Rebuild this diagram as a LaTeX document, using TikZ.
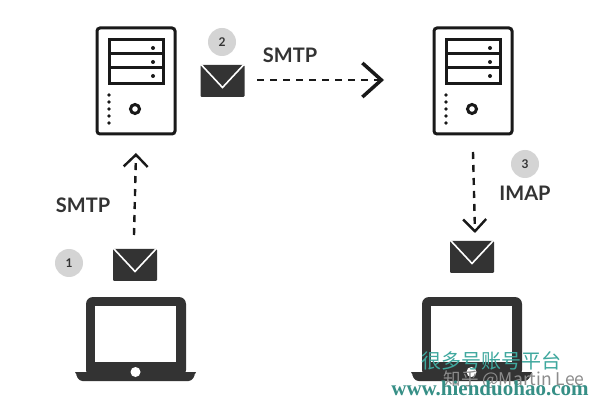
\documentclass[tikz,border=0pt]{standalone}
\usepackage{fontspec}
\setmainfont{Lato}
\newfontfamily\cjk{Noto Sans CJK SC}
\newfontfamily\wmserif{Liberation Serif}
\usetikzlibrary{arrows.meta}
\definecolor{ink}{HTML}{333333}
\definecolor{badge}{HTML}{D4D4D4}
\definecolor{wm}{HTML}{3FA89E}
\tikzset{
  x=1pt,y=-1pt,
  proto/.style={font=\fontsize{20}{22}\selectfont\bfseries,text=ink,inner sep=0pt},
  num/.style={circle,fill=badge,minimum size=28pt,inner sep=0pt,text=ink,font=\fontsize{12}{12}\selectfont\bfseries},
  flow/.style={line width=2.4pt,draw=black!90,dash pattern=on 7pt off 6pt},
  pics/serverbox/.style={code={
    \draw[line width=3pt,draw=black!90,rounded corners=3pt] (1,0) rectangle (79,106);
    \draw[line width=3pt,draw=black!90] (13,12) rectangle (67,56) (13,26)--(67,26) (13,40)--(67,40);
    \foreach \yy in {20,34,48} \fill[black!90] (57,\yy) circle (2);
    \foreach \yy in {67,74,81,88,95} \fill[black!90] (13,\yy) circle (1.9);
    \draw[line width=3pt,draw=black!90] (39,81) circle (4.5);
  }},
  pics/mailbox/.style={code={
    \fill[ink,rounded corners=1.2pt] (0,0) rectangle (44,32);
    \draw[white,line width=1.6pt] (1,0)--(22,22.5)--(43,0);
  }},
  pics/laptopbox/.style={code={
    \fill[ink,rounded corners=7pt] (11,0) rectangle (111,80);
    \fill[ink,rounded corners=3.5pt] (0,75) -- (121,75) -- (117,84) -- (4,84) -- cycle;
    \fill[ink] (0,75) -- (121,75) -- (120,77) -- (1,77) -- cycle;
    \fill[white] (20,9) rectangle (101,65);
    \fill[white] (60.5,75) circle (5);
  }},
}
\begin{document}
\begin{tikzpicture}
\useasboundingbox (0,0) rectangle (600,406);
\fill[white] (0,0) rectangle (600,406);
% servers
\pic at (96,28) {serverbox};
\pic at (433,28) {serverbox};
% envelopes
\pic at (113,249) {mailbox};
\pic at (200.5,65) {mailbox};
\pic at (450,241) {mailbox};
% laptops
\pic at (75,297) {laptopbox};
\pic at (411,297) {laptopbox};
% connector ends
\coordinate (upstart) at (134,235);
\coordinate (uptip) at (136,153);
\coordinate (rightstart) at (257,80);
\coordinate (righttip) at (384,80);
\coordinate (downstart) at (473,152);
\coordinate (downtip) at (475,233);
\draw[flow,-{Straight Barb[length=12pt,width=24pt,line width=2.4pt]}] (upstart)--(uptip);
\draw[flow,-{Straight Barb[length=19pt,width=34pt,line width=3.5pt]}] (rightstart)--(righttip);
\draw[flow,-{Straight Barb[length=12pt,width=23pt,line width=2.4pt]}] (downstart)--(downtip);
% badges
\node[num] (b1) at (69,263) {1};
\node[num] (b2) at (222,42) {2};
\node[num] (b3) at (525,164) {3};
% labels
\node[proto] (l1) at (83,205) {SMTP};
\node[proto] (l2) at (290,55) {SMTP};
\node[proto] (l3) at (525,193) {IMAP};
% watermarks
\node[inner sep=0pt,text=wm,font=\cjk\fontsize{20}{20}\selectfont] (w1) at (491,361) {很多号账号平台};
\node[inner sep=0pt,text=black!45,font=\cjk\fontsize{17.5}{18}\selectfont] (w2) at (514,380) {知乎 @Martin Lee};
\node[inner sep=0pt,text=wm!85!black,font=\wmserif\fontsize{21}{22}\selectfont\bfseries] (w3) at (490,388) {www.hienduohao.com};
\end{tikzpicture}
\end{document}
